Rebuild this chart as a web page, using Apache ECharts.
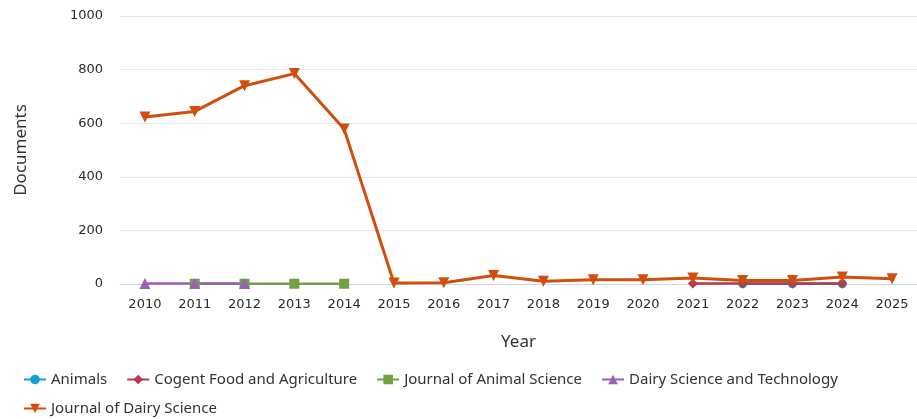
<!DOCTYPE html>
<html>
<head>
<meta charset="utf-8">
<script src="https://cdn.jsdelivr.net/npm/echarts@6/dist/echarts.min.js"></script>
<style>
html,body{margin:0;padding:0;background:#fff;}
#chart{width:917px;height:419px;}
</style>
</head>
<body>
<div id="chart"></div>
<script>
const years = ['2010','2011','2012','2013','2014','2015','2016','2017','2018','2019','2020','2021','2022','2023','2024','2025'];
const yTicks = [0, 200, 400, 600, 800, 1000];
const animals = [null,null,null,null,null,null,null,null,null,null,null,null,1,1,1,null];
const cogent = [null,null,null,null,null,null,null,null,null,null,null,2,2,2,2,null];
const jas = [null,1,1,1,1,null,null,null,null,null,null,null,null,null,null,null];
const dst = [2,2,2,null,null,null,null,null,null,null,null,null,null,null,null,null];
const jds = [623,644,740,785,578,4,5,32,10,16,16,22,13,13,26,20];

const colors = {
  animals: '#1a9fd3',
  cogent: '#b8394b',
  jas: '#72a045',
  dst: '#9a5fb8',
  jds: '#d24e0c'
};

const chart = echarts.init(document.getElementById('chart'), null, {renderer: 'canvas'});
const txtFont = '"Noto Sans", sans-serif';
const tickFont = '"DejaVu Sans", sans-serif';

function mk(name, data, color, symbol, size, rotate, width) {
  return {
    name: name, type: 'line', data: data,
    symbol: symbol, symbolSize: size, symbolRotate: rotate || 0,
    connectNulls: false,
    itemStyle: {color: color},
    lineStyle: {color: color, width: width},
    emphasis: {disabled: true},
    animation: false
  };
}

const legendBase = {
  itemWidth: 22, itemHeight: 12, itemGap: 19, padding: 0,
  textStyle: {fontFamily: txtFont, fontSize: 15, color: '#333'}
};

chart.setOption({
  animation: false,
  grid: {left: 120, right: -5, top: 16, bottom: 135, containLabel: false},
  legend: [
    Object.assign({left: 23, top: 372, data: ['Animals','Cogent Food and Agriculture','Journal of Animal Science','Dairy Science and Technology']}, legendBase),
    Object.assign({left: 23, top: 401, data: ['Journal of Dairy Science']}, legendBase)
  ],
  xAxis: {
    type: 'category', data: years, boundaryGap: true,
    name: 'Year', nameLocation: 'middle', nameGap: 50,
    nameTextStyle: {fontFamily: txtFont, fontSize: 17, color: '#333'},
    axisLine: {show: true, lineStyle: {color: '#ccd6eb', width: 1}},
    axisTick: {show: false},
    axisLabel: {fontFamily: tickFont, fontSize: 13, color: '#2b2b2b', margin: 14}
  },
  yAxis: {
    type: 'value', min: yTicks[0], max: yTicks[yTicks.length-1], interval: 200,
    name: 'Documents', nameLocation: 'middle', nameGap: 90, nameRotate: 90,
    nameTextStyle: {fontFamily: txtFont, fontSize: 17, color: '#333'},
    axisLine: {show: false}, axisTick: {show: false},
    axisLabel: {fontFamily: tickFont, fontSize: 13, color: '#2b2b2b', margin: 17, formatter: function (v) { return String(v); }},
    splitLine: {lineStyle: {color: '#e6e6e6', width: 1}}
  },
  series: [
    mk('Animals', animals, colors.animals, 'circle', 9, 0, 2.5),
    mk('Cogent Food and Agriculture', cogent, colors.cogent, 'diamond', 10, 0, 2.5),
    mk('Journal of Animal Science', jas, colors.jas, 'rect', 10, 0, 2.5),
    mk('Dairy Science and Technology', dst, colors.dst, 'triangle', 11, 0, 2.5),
    mk('Journal of Dairy Science', jds, colors.jds, 'triangle', 11, 180, 3)
  ]
});
</script>
</body>
</html>
